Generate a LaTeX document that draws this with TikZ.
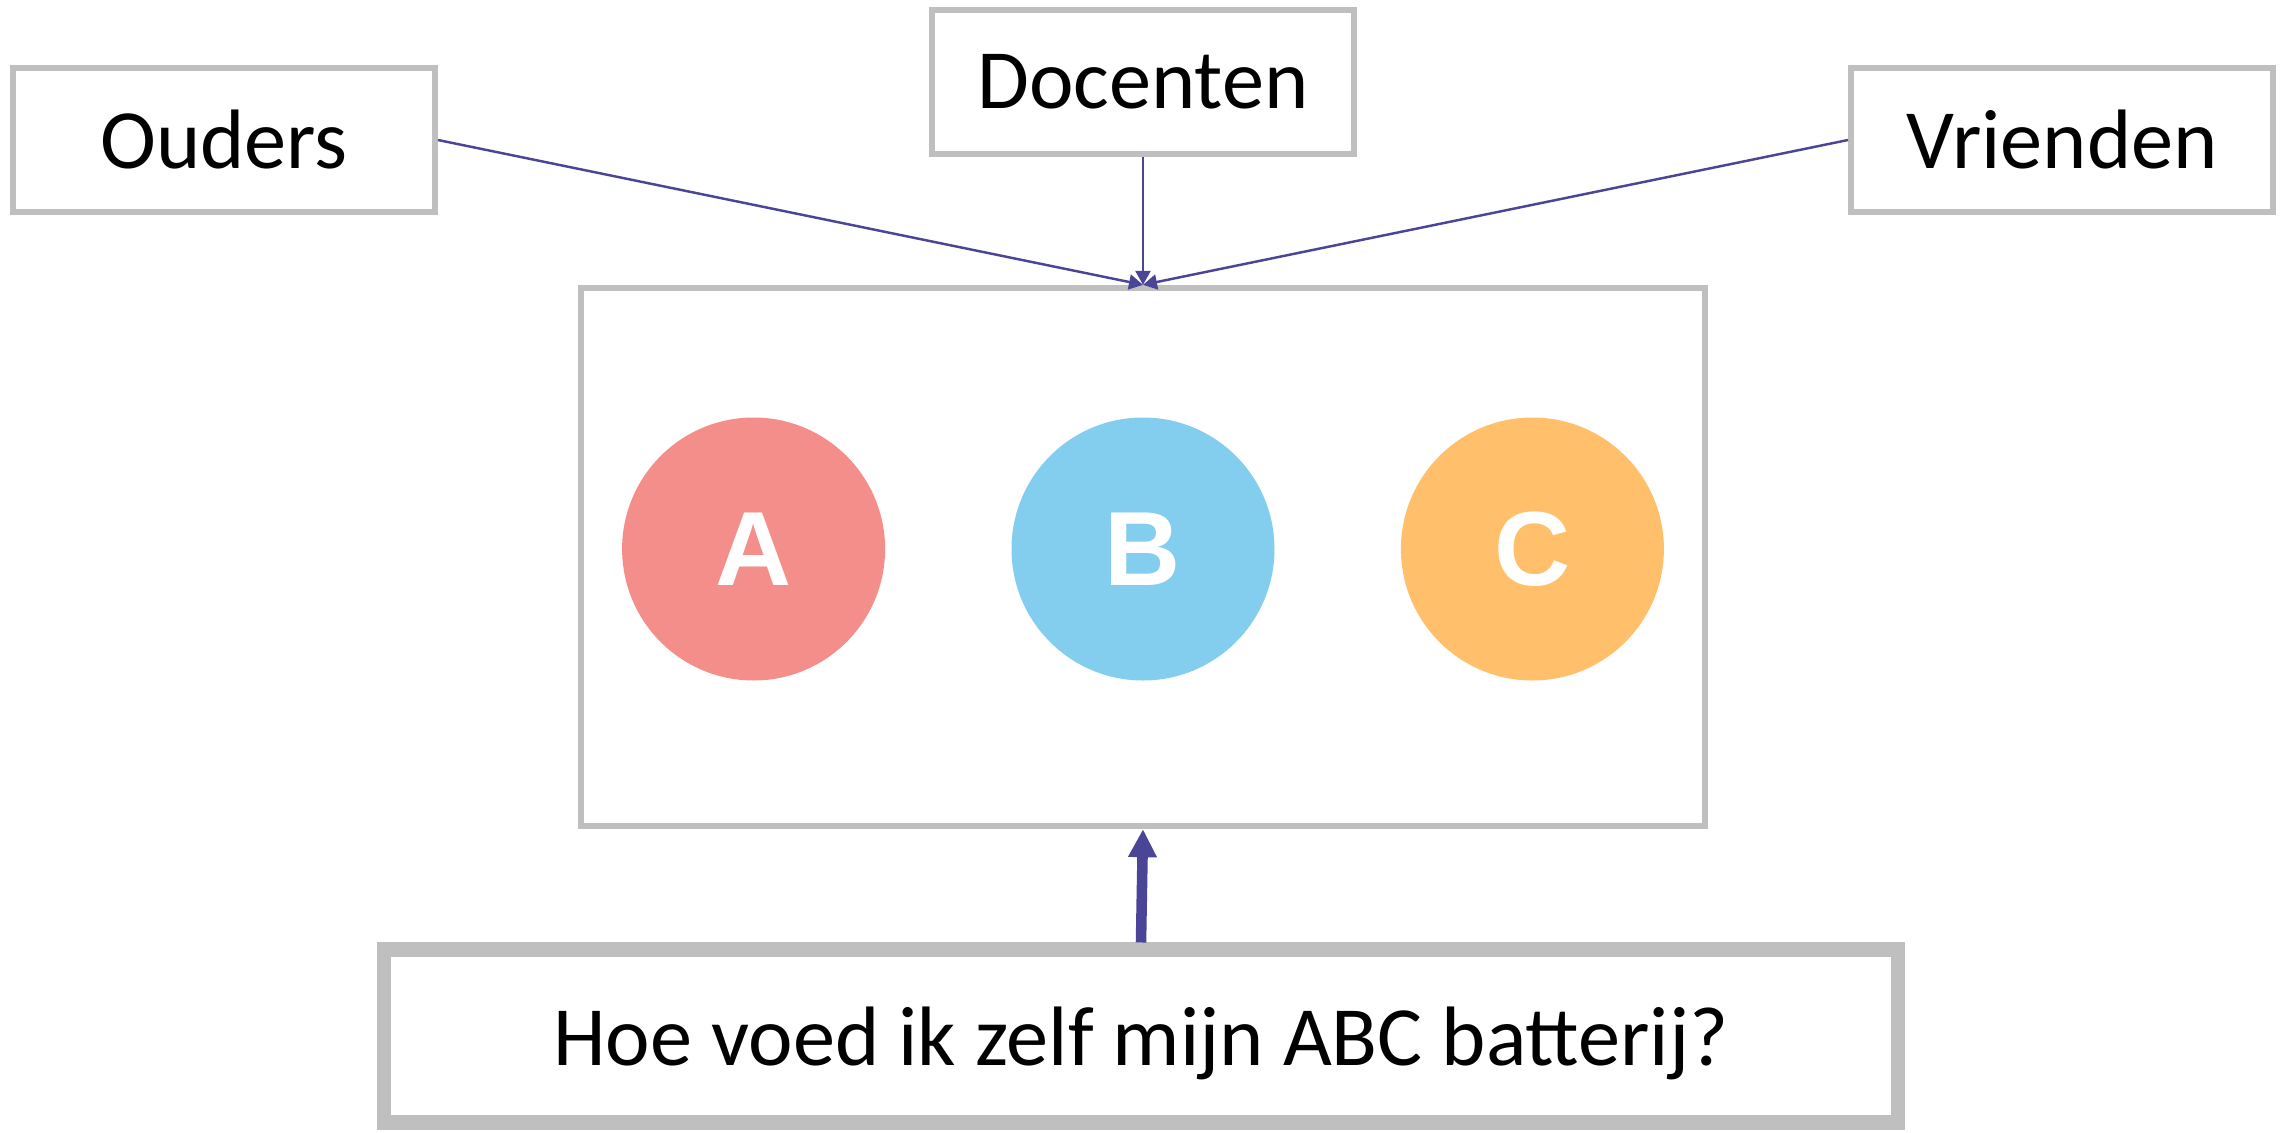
\documentclass[tikz,border=0pt]{standalone}
\usepackage{fontspec}
\setmainfont{Carlito}
\newfontfamily\letterfont{Liberation Sans}
\usetikzlibrary{arrows.meta,positioning}
\definecolor{boxgray}{HTML}{BFBFBF}
\definecolor{arrowblue}{HTML}{4A4596}
\definecolor{softred}{HTML}{F48E8B}
\definecolor{softblue}{HTML}{83CDEF}
\definecolor{softorange}{HTML}{FFBF6B}
\tikzstyle{source} = [rectangle, draw=boxgray, line width=1.7pt,
    minimum width=42.2mm, minimum height=14.4mm, font=\fontsize{24}{29}\selectfont]
\tikzstyle{battery} = [circle, inner sep=0pt, minimum size=26.3mm,
    text=white, font=\letterfont\bfseries\fontsize{30}{35}\selectfont]
\tikzstyle{line} = [draw=arrowblue, line width=0.7pt,
    -{Triangle[length=1.4mm, width=1.5mm]}]
\tikzstyle{thick line} = [draw=arrowblue, line width=3pt,
    -{Triangle[length=2.8mm, width=2.7mm]}]

\begin{document}
\begin{tikzpicture}[x=0.1mm, y=-0.1mm]
    \useasboundingbox (0,0) rectangle (2280,1133);
    % Place nodes
    \node [source] (ouders) at (224,140) {Ouders};
    \node [source] (docenten) at (1143,82) {Docenten};
    \node [source] (vrienden) at (2062,140) {Vrienden};
    \node [rectangle, draw=boxgray, line width=1.8pt,
        minimum width=112.4mm, minimum height=53.8mm] (main) at (1143,557) {};
    \node [battery, fill=softblue] (b) at (1143,549) {B};
    \node [battery, fill=softred, left=12.5mm of b] (a) {A};
    \node [battery, fill=softorange, right=12.5mm of b] (c) {C};
    \node [rectangle, draw=boxgray, line width=4pt,
        minimum width=151.4mm, minimum height=17.3mm, text depth=0pt,
        font=\fontsize{24}{29}\selectfont] (vraag) at (1141,1036)
        {Hoe voed ik zelf mijn ABC batterij?};
    % Draw edges
    \path [line] (ouders.east) -- (main.north);
    \path [line] (docenten.south) -- (main.north);
    \path [line] (vrienden.west) -- (main.north);
    \path [thick line] (vraag.north) -- (main.south);
\end{tikzpicture}
\end{document}
